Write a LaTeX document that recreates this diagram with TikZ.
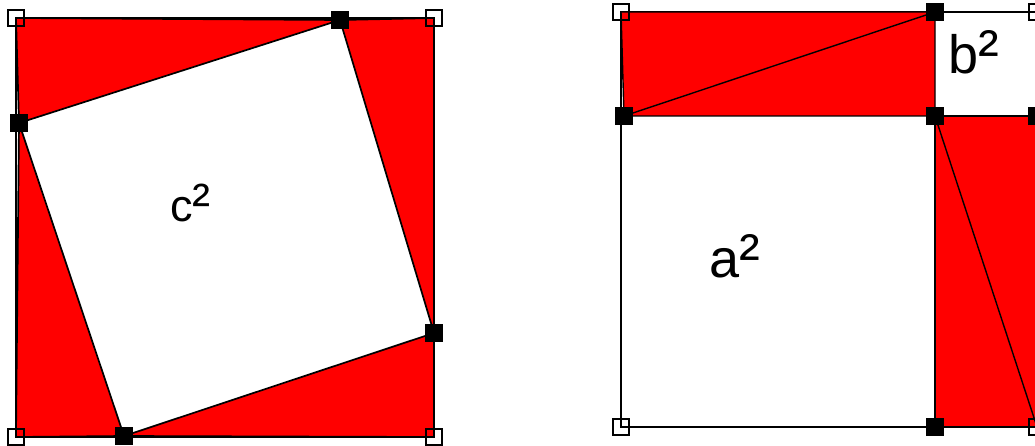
\documentclass[tikz,border=0pt]{standalone}
\usepackage{fontspec}
\setmainfont{Liberation Sans}

\begin{document}
\begin{tikzpicture}[x=1pt, y=-1pt,
    redpart/.style={fill=red, draw=black, line width=1.7pt, line join=round},
    frame/.style={draw=black, line width=1.1pt},
    freept/.style={rectangle, draw=black, line width=1.5pt, minimum size=16pt, inner sep=0pt},
    fixpt/.style={rectangle, fill=black, minimum size=18pt, inner sep=0pt},
    area/.style={inner sep=0pt, anchor=base west},
    small/.style={area, font=\fontsize{45}{50}\selectfont},
    big/.style={area, font=\fontsize{54}{60}\selectfont}
]
\useasboundingbox (0,0) rectangle (1035,446);
\clip (0,0) rectangle (1035,446);

% c^2 square
\coordinate (ctl) at (16,18);
\coordinate (ctr) at (434,18);
\coordinate (cbr) at (434,437);
\coordinate (cbl) at (16,437);
\coordinate (cleft) at (19,123);
\coordinate (ctop) at (340,20);
\coordinate (cright) at (434,333);
\coordinate (cbot) at (124,436);

\draw[frame] (ctl) -- (ctr) -- (cbr) -- (cbl) -- cycle;
\filldraw[redpart] (ctl) -- (ctop) -- (cleft) -- cycle;
\filldraw[redpart] (ctop) -- (ctr) -- (cright) -- cycle;
\filldraw[redpart] (cright) -- (cbr) -- (cbot) -- cycle;
\filldraw[redpart] (cbot) -- (cbl) -- (cleft) -- cycle;
\node[small] (csq) at (170,222) {c{\fontsize{54}{54}\selectfont²}};

% a^2 + b^2 square
\coordinate (abtl) at (621,12);
\coordinate (abtr) at (1037,12);
\coordinate (abbr) at (1037,427);
\coordinate (abbl) at (621,427);
\coordinate (atop) at (935,12);
\coordinate (amid) at (935,116);
\coordinate (bright) at (1037,116);
\coordinate (aleft) at (624,116);
\coordinate (abot) at (935,427);

\draw[frame] (abtl) -- (abtr) -- (abbr) -- (abbl) -- cycle;
\filldraw[redpart, line width=1.4pt] (abtl) -- (atop) -- (amid) -- (aleft) -- cycle;
\draw[redpart, line width=1.4pt] (aleft) -- (atop);
\filldraw[redpart, line width=1.4pt] (amid) -- (bright) -- (abbr) -- (abot) -- cycle;
\draw[redpart, line width=1.4pt] (amid) -- (abbr);
\node[big] (asq) at (709,277) {a{\fontsize{62}{62}\selectfont²}};
\node[big] (bsq) at (948,74) {b{\fontsize{62}{62}\selectfont²}};

% points
\foreach \p in {ctl,ctr,cbr,cbl,abtl,abtr,abbr,abbl}
    \node[freept] at (\p) {};
\foreach \p in {cleft,ctop,cright,cbot,atop,amid,bright,aleft,abot}
    \node[fixpt] at (\p) {};
\end{tikzpicture}
\end{document}
